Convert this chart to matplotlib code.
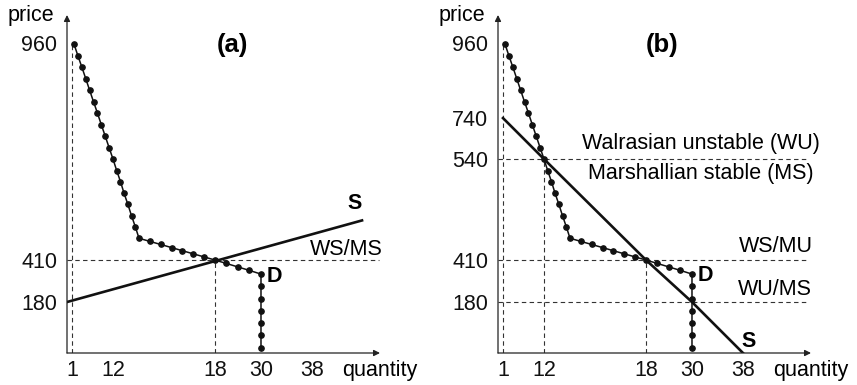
import matplotlib.pyplot as plt
import numpy as np

plt.rcParams['font.family'] = ['Liberation Sans', 'DejaVu Sans']

# demand schedule (identical in both panels)
demand_q = [1.54, 2.58, 3.63, 4.68, 5.72, 6.77, 7.82, 8.86, 9.91, 10.95, 12.0,
            12.22, 12.44, 12.65, 12.87, 13.09, 13.31, 13.53,
            14.17, 14.81, 15.45, 16.08, 16.72, 17.36, 18.0,
            21, 24, 27, 30,
            30, 30, 30, 30, 30, 30]
demand_p = [957, 923, 890, 856, 822, 788, 755, 708, 652, 596, 540,
            525, 511, 496, 482, 467, 453, 438,
            434, 430, 426, 422, 418, 414, 410,
            391, 372, 353, 333,
            266, 199, 149, 105, 62, 18]

# supply curves
supply_a_q = [0, 45.8]
supply_a_p = [180, 461]
supply_b_q = [1, 12, 18, 30, 38]
supply_b_p = [740, 540, 410, 180, 0]

quantity_ticks = [1, 12, 18, 30, 38]
price_ticks_a = [180, 410, 960]
price_ticks_b = [180, 410, 540, 740, 960]

# the original axes are schematic, not to scale -> piecewise linear scales
Q_ANCHORS = [0, 1, 12, 18, 30, 38, 50]
Q_POS = [0, 5, 46, 148, 194, 245, 322]
P_ANCHORS = [0, 180, 410, 540, 740, 960, 1100]
P_POS = [0, 51, 93, 194, 235, 310, 358]
Q_MAX, P_MAX = 48.6, 1042

FS = 15.5
DASH = dict(color='#333333', lw=0.8, dashes=(4, 3), zorder=1)


def piecewise(anchors, positions):
    def forward(v):
        return np.interp(v, anchors, positions)

    def inverse(v):
        return np.interp(v, positions, anchors)
    return forward, inverse


def setup_axes(ax, price_ticks):
    ax.set_xscale('function', functions=piecewise(Q_ANCHORS, Q_POS))
    ax.set_yscale('function', functions=piecewise(P_ANCHORS, P_POS))
    ax.set_xlim(0, Q_MAX)
    ax.set_ylim(0, P_MAX)
    for s in ax.spines.values():
        s.set_visible(False)
    ax.set_xticks(quantity_ticks)
    ax.set_xticklabels([str(q) for q in quantity_ticks])
    ax.set_yticks(price_ticks)
    ax.set_yticklabels([str(p) for p in price_ticks])
    ax.minorticks_off()
    ax.tick_params(axis='both', length=0, labelsize=FS, colors='#111111')
    ax.tick_params(axis='x', pad=5)
    ax.tick_params(axis='y', pad=7)
    ax.patch.set_alpha(0)

    arrow = dict(arrowstyle='-|>', color='#222222', lw=0.9,
                 mutation_scale=9, shrinkA=0, shrinkB=0)
    ax.annotate('', xy=(0, 1), xytext=(0, 0), xycoords='axes fraction',
                arrowprops=arrow)
    ax.annotate('', xy=(1, 0), xytext=(0, 0), xycoords='axes fraction',
                arrowprops=arrow)
    ax.annotate('price', xy=(0, 1), xycoords='axes fraction',
                xytext=(-9, 0), textcoords='offset points',
                ha='right', va='center', fontsize=FS)
    ax.annotate('quantity', xy=(1, 0), xycoords='axes fraction',
                xytext=(0, -5), textcoords='offset points',
                ha='center', va='top', fontsize=FS)


def draw_demand(ax):
    ax.plot(demand_q, demand_p, color='#111111', lw=1.1, marker='o',
            ms=3.8, zorder=3)


fig = plt.figure(figsize=(8.57, 3.85), dpi=100)
ax_a = fig.add_axes([67 / 857, 32 / 385, 313 / 857, 338 / 385])
ax_b = fig.add_axes([498 / 857, 32 / 385, 313 / 857, 338 / 385])

# ---- panel (a)
setup_axes(ax_a, price_ticks_a)
ax_a.plot([1, 1], [0, 960], **DASH)
ax_a.plot([18, 18], [0, 410], **DASH)
ax_a.plot([0, 48.4], [410, 410], **DASH)
draw_demand(ax_a)
ax_a.plot(supply_a_q, supply_a_p, color='#111111', lw=1.9, zorder=2)
ax_a.text(0.527, 0.911, '(a)', transform=ax_a.transAxes, ha='center',
          va='center', fontsize=18.5, fontweight='bold')
ax_a.text(44.7, 483, 'S', ha='center', va='center', fontsize=FS,
          fontweight='bold')
ax_a.text(30.9, 322, 'D', ha='left', va='center', fontsize=FS,
          fontweight='bold')
ax_a.text(43.3, 424, 'WS/MS', ha='center', va='center', fontsize=FS)

# ---- panel (b)
setup_axes(ax_b, price_ticks_b)
ax_b.plot([1, 1], [0, 960], **DASH)
ax_b.plot([12, 12], [0, 540], **DASH)
ax_b.plot([18, 18], [0, 410], **DASH)
for p in [540, 410, 180]:
    ax_b.plot([0, 48.0], [p, p], **DASH)
draw_demand(ax_b)
ax_b.plot(supply_b_q, supply_b_p, color='#111111', lw=1.9, zorder=2)
ax_b.text(0.524, 0.911, '(b)', transform=ax_b.transAxes, ha='center',
          va='center', fontsize=18.5, fontweight='bold')
ax_b.text(38.9, 42, 'S', ha='center', va='center', fontsize=FS,
          fontweight='bold')
ax_b.text(30.9, 328, 'D', ha='left', va='center', fontsize=FS,
          fontweight='bold')
ax_b.text(31.4, 618, 'Walrasian unstable (WU)', ha='center', va='center',
          fontsize=FS)
ax_b.text(31.4, 522, 'Marshallian stable (MS)', ha='center', va='center',
          fontsize=FS)
ax_b.text(43.1, 427, 'WS/MU', ha='center', va='center', fontsize=FS)
ax_b.text(43.0, 251, 'WU/MS', ha='center', va='center', fontsize=FS)

fig.savefig('out.png', dpi=100)
plt.close(fig)
